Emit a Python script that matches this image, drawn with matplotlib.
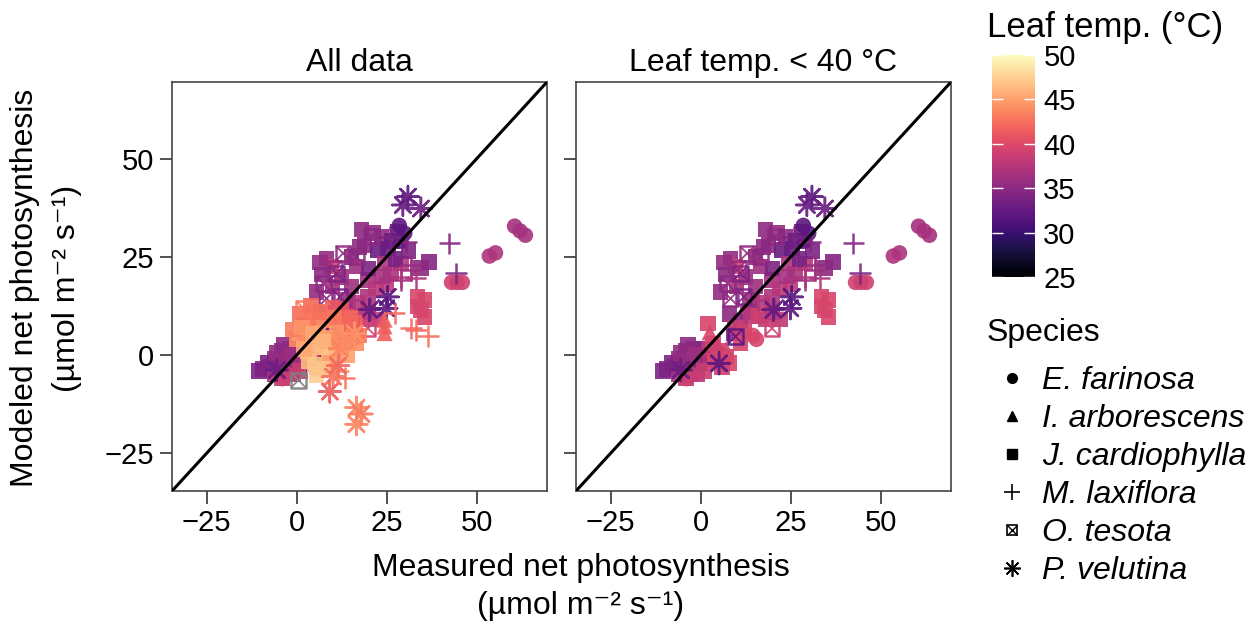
import numpy as np
import matplotlib.pyplot as plt
from matplotlib.colors import Normalize
from matplotlib.cm import ScalarMappable
from matplotlib.lines import Line2D

plt.rcParams['font.family'] = ['Liberation Sans', 'DejaVu Sans']

#==========================================
# Datos leidos de la figura (medido, modelado, temperatura hoja).
#==========================================

# E. farinosa
ef_med = [60.5, 62.0, 63.5, 53.5, 55.2, 43.0, 44.5, 46.0, 14.5, 15.5, -4.0, -2.5, 28.5, 30.0, 29.0]
ef_mod = [32.8, 31.6, 30.5, 25.2, 26.0, 18.5, 18.5, 18.5, 5.0, 4.0, -6.0, -5.0, 33.0, 31.0, 29.0]
ef_tmp = [36.5, 36.5, 36.5, 37.0, 37.0, 39.0, 39.0, 39.0, 39.5, 39.5, 39.0, 38.5, 32.0, 32.0, 32.5]

# I. arborescens
ia_med = [24.4, 24.4, 24.4, 2.5, 7.1, 4.5]
ia_mod = [9.0, 7.3, 5.6, 5.8, 1.5, 3.0]
ia_tmp = [41.5, 41.5, 41.5, 39.5, 39.5, 39.0]

# J. cardiophylla
jc_med = [21.2, 23.5, 18.9, 8.3, 15.2, 16.6, 22.6, 25.3, 24.4, 29.0, 36.8, 34.5, 26.2, 19.8, 15.2,
          12.4, 19.8, 17.0, 9.7, 6.5, 7.0, 5.5, 10.0, 13.0, 22.0, 25.0, 27.5, 31.0, 20.0, 18.0,
          26.5, 11.0, 14.0, 22.0, 8.0, 9.2, 28.0, 24.0, 17.5, 13.5,
          33.6, 35.5, 33.6, 35.5, 34.5,
          -6.0, -4.0, -2.0, 0.0, 1.0, -7.5, -9.5, -10.5, -5.0, -3.0, -1.0, -4.0, -6.0, -2.0, 0.0,
          2.0, -3.0, 1.0, -8.0, -5.5, -3.5, -1.5, 2.5,
          3.5, 5.0, 7.0, 8.0, 6.0, 4.0, 9.5, 12.0, 11.0, 2.0, 16.0, 18.0, 20.0,
          2.3, 6.0, 3.2, 4.1, 7.8, 10.6, 12.4, 14.3, 16.1, 8.8, 6.9, 5.5, 12.4, 5.5, 0.0,
          -1.0, 3.0, 9.0, 7.0, 13.0, 10.0, 4.0, 1.0, 16.5, 14.0, 1.5, 4.5, 8.5, 11.0, 3.5,
          6.5, 10.5, 15.0, 2.0, 5.0, 7.5, 12.0, 17.5]
jc_mod = [31.0, 30.1, 28.0, 24.6, 25.0, 22.5, 26.7, 27.1, 23.3, 23.3, 23.7, 22.1, 20.8, 19.1, 17.4,
          19.9, 14.8, 13.2, 22.5, 23.5, 20.5, 16.0, 17.5, 11.0, 17.0, 18.0, 24.5, 26.5, 22.0, 32.0,
          29.0, 8.5, 10.0, 9.0, 10.5, 5.5, 31.5, 20.0, 27.5, 14.0,
          14.8, 14.0, 12.3, 9.7, 11.5,
          -1.0, 1.0, 1.5, 1.5, 0.0, -3.0, -3.5, -4.0, -3.0, -4.5, -5.0, -6.0, -5.0, -2.0, -2.0,
          -1.0, -1.0, -4.0, -2.0, 0.5, 2.5, 0.0, 1.5,
          3.0, 1.0, -0.5, -2.0, -3.0, -1.5, 7.0, 6.0, 3.0, 8.0, 10.0, 9.0, 11.0,
          4.7, 6.4, 8.1, 9.7, 8.9, 3.8, 2.1, 5.5, 7.2, 0.4, 2.1, 2.8, 11.5, -5.1, 4.0,
          6.5, 1.0, -2.0, -3.5, 8.0, 12.0, 12.5, 10.5, 3.0, 0.0, 7.0, 5.5, 4.5, 6.0, -1.5,
          11.0, 9.5, 9.5, 1.5, -2.5, 3.5, 4.0, 5.0]
jc_tmp = [35.5, 35.0, 35.0, 35.5, 35.0, 36.0, 33.0, 33.0, 37.0, 37.5, 34.5, 35.0, 37.0, 36.5, 36.0,
          36.0, 37.0, 37.5, 39.5, 35.5, 35.0, 35.5, 36.5, 37.0, 37.5, 38.0, 33.5, 34.0, 34.0, 35.0,
          33.0, 35.0, 37.5, 38.0, 35.0, 34.0, 33.0, 36.5, 35.0, 36.0,
          39.5, 39.5, 39.5, 39.5, 39.5,
          35.5, 35.0, 35.5, 34.5, 35.0, 34.5, 34.5, 34.0, 35.5, 36.0, 37.5, 38.0, 36.5, 35.5, 36.0,
          37.0, 35.0, 38.5, 34.0, 35.5, 35.0, 36.0, 37.5,
          39.5, 39.5, 39.0, 39.5, 39.0, 39.5, 38.5, 39.0, 39.5, 39.5, 39.0, 38.5, 38.0,
          44.0, 45.0, 43.5, 43.0, 44.0, 45.0, 45.5, 42.5, 41.5, 46.0, 47.0, 46.5, 41.0, 47.5, 44.0,
          43.0, 46.0, 45.0, 47.0, 42.0, 41.0, 42.0, 42.5, 44.0, 45.0, 44.5, 45.5, 45.0, 44.5, 46.5,
          42.5, 43.0, 42.0, 45.5, 47.0, 46.0, 44.0, 43.0]

# M. laxiflora
ml_med = [42.4, 44.2, 31.8, 33.1, 36.4, 27.2, 13.3, 11.5, -6.0, 29.0, 31.8, 25.8, 30.4, 33.0, 20.5,
          16.0, 31.8, 29.0]
ml_mod = [28.4, 20.8, 6.8, 6.4, 4.8, 10.6, -5.9, -4.0, -3.8, 19.1, 22.9, 30.1, 28.7, 19.5, 12.0,
          14.0, 21.6, 19.9]
ml_tmp = [34.5, 34.0, 42.0, 42.0, 42.5, 42.0, 42.5, 44.0, 35.0, 36.0, 35.5, 34.0, 34.5, 37.0, 36.0,
          37.0, 36.0, 37.0]

# O. tesota (nan = sin temperatura)
ot_med = [12.9, 16.6, 11.0, 7.4, 12.0, 8.3, 9.7, 19.8, 1.9, 0.5, 15.7, 20.7, 10.6]
ot_mod = [25.9, 25.0, 20.8, 18.2, 14.8, 14.4, 4.7, 6.8, 11.9, -6.4, 8.1, 30.1, 22.1]
ot_tmp = [35.5, 35.0, 34.0, 35.0, 34.0, 35.0, 32.0, 39.0, 43.0, np.nan, 42.0, 35.0, 35.5]

# P. velutina
pv_med = [30.9, 29.5, 34.5, 25.3, 24.9, 20.2, 5.1, -5.5, 12.0, 11.5, 10.1, 9.2, 16.6, 18.0, 16.6,
          16.1, 14.0]
pv_mod = [40.3, 38.2, 37.3, 14.8, 11.9, 11.5, -2.1, -3.8, 1.7, -2.7, -5.5, -9.3, -13.4, -15.0, -17.6,
          5.5, 3.5]
pv_tmp = [32.0, 32.5, 33.0, 31.5, 32.0, 32.5, 32.0, 33.0, 43.5, 42.0, 42.5, 41.5, 43.5, 43.0, 43.5,
          44.5, 44.0]

especies = ['E. farinosa', 'I. arborescens', 'J. cardiophylla', 'M. laxiflora', 'O. tesota', 'P. velutina']
ticks = [-25, 0, 25, 50]
ticks_cb = [25, 30, 35, 40, 45, 50]

ASTER = (8, 2, 0)
grupos = [  # (medido, modelado, temp, marcador, tamaño)
    (jc_med, jc_mod, jc_tmp, 's', 125),
    (ef_med, ef_mod, ef_tmp, 'o', 125),
    (ia_med, ia_mod, ia_tmp, '^', 135),
    (ot_med, ot_mod, ot_tmp, 'tesota', 115),
    (ml_med, ml_mod, ml_tmp, '+', 240),
    (pv_med, pv_mod, pv_tmp, ASTER, 240),
]

cmap = plt.get_cmap('magma')
norm = Normalize(25, 50)
lim = (-34.6, 69.5)
fs = 22


def colores(t):
    t = np.asarray(t, float)
    c = cmap(norm(t))
    c[np.isnan(t)] = (0.5, 0.5, 0.5, 1)
    c[:, 3] = 0.9
    return c


def dibujar(ax, x, y, t, marca, tam):
    if len(x) == 0:
        return
    c = colores(t)
    if marca == 'tesota':
        ax.scatter(x, y, s=tam, marker='s', facecolors='none', edgecolors=c, linewidths=1.8)
        ax.scatter(x, y, s=tam, marker='x', c=c, linewidths=1.3)
    elif marca in ('+', ASTER):
        ax.scatter(x, y, s=tam, marker=marca, c=c, linewidths=1.8)
    else:
        ax.scatter(x, y, s=tam, marker=marca, c=c, linewidths=0)


fig = plt.figure(figsize=(12.59, 6.27), dpi=100)
ax1 = fig.add_axes([172/1259, 1-491/627, 375/1259, 409/627])
ax2 = fig.add_axes([576/1259, 1-491/627, 375/1259, 409/627])

for ax, solo_frio in ((ax1, False), (ax2, True)):
    # primero las hojas frias, encima las calientes
    for capa in ('frio', 'calor'):
        for med, mod, tmp, marca, tam in grupos:
            med = np.array(med); mod = np.array(mod); tmp = np.array(tmp, float)
            if capa == 'frio':
                m = (tmp < 40) if solo_frio else ((tmp < 40) | np.isnan(tmp))
            else:
                if solo_frio:
                    continue
                m = tmp >= 40
            dibujar(ax, med[m], mod[m], tmp[m], marca, tam)
    ax.axline((0, 0), slope=1, color='black', lw=2.2, zorder=5)
    ax.set_xlim(lim)
    ax.set_ylim(lim)
    ax.set_xticks(ticks)
    ax.set_yticks(ticks)
    ax.tick_params(direction='out', length=9, width=1.2, color='#333333', labelsize=21, pad=4)
    for sp in ax.spines.values():
        sp.set_color('#444444')
        sp.set_linewidth(1.2)

ax2.tick_params(labelleft=False)
ax1.set_title('All data', fontsize=fs + 1, pad=8)
ax2.set_title('Leaf temp. < 40 °C', fontsize=fs + 1, pad=8)

unidades = '(µmol m⁻² s⁻¹)'
fig.text(581/1259, 1-568/627, 'Measured net photosynthesis', fontsize=fs + 1, ha='center', va='center')
fig.text(581/1259, 1-606/627, unidades, fontsize=fs + 1, ha='center', va='center')
fig.text(25/1259, 1-288/627, 'Modeled net photosynthesis', fontsize=fs + 1, ha='center', va='center', rotation=90)
fig.text(67/1259, 1-288/627, unidades, fontsize=fs + 1, ha='center', va='center', rotation=90)

#--------------------
# Barra de color.
#--------------------
cax = fig.add_axes([992/1259, 1-277/627, 43/1259, 222/627])
cb = fig.colorbar(ScalarMappable(norm=norm, cmap=cmap), cax=cax, ticks=ticks_cb)
cb.outline.set_visible(False)
cb.minorticks_off()
cax.tick_params(direction='in', length=8, width=1, color='white', left=True, right=True,
                labelleft=False, labelright=True, labelsize=21, pad=6)
fig.text(987/1259, 1-28/627, 'Leaf temp. (°C)', fontsize=fs + 3, ha='left', va='center')

#--------------------
# Leyenda de especies.
#--------------------
kw = dict(color='black', linestyle='none', markersize=7)
manejadores = [
    Line2D([], [], marker='o', **kw),
    Line2D([], [], marker='^', **kw),
    Line2D([], [], marker='s', **kw),
    Line2D([], [], marker='+', markeredgewidth=1.2, markersize=12, color='black', linestyle='none'),
    (Line2D([], [], marker='s', markerfacecolor='none', markeredgewidth=1.2, **kw),
     Line2D([], [], marker='x', markeredgewidth=1.0, **kw)),
    Line2D([], [], marker=ASTER, markeredgewidth=1.2, markersize=12, color='black', linestyle='none'),
]
fig.text(987/1259, 1-333/627, 'Species', fontsize=fs + 1, ha='left', va='center')
fig.legend(manejadores, especies, loc='upper left', bbox_to_anchor=(994/1259, 1-366/627),
           prop={'style': 'italic', 'size': fs + 1},
           frameon=False, handlelength=1.1, handletextpad=0.4,
           labelspacing=0.25, borderpad=0, borderaxespad=0)

fig.savefig('out.png', dpi=100)
